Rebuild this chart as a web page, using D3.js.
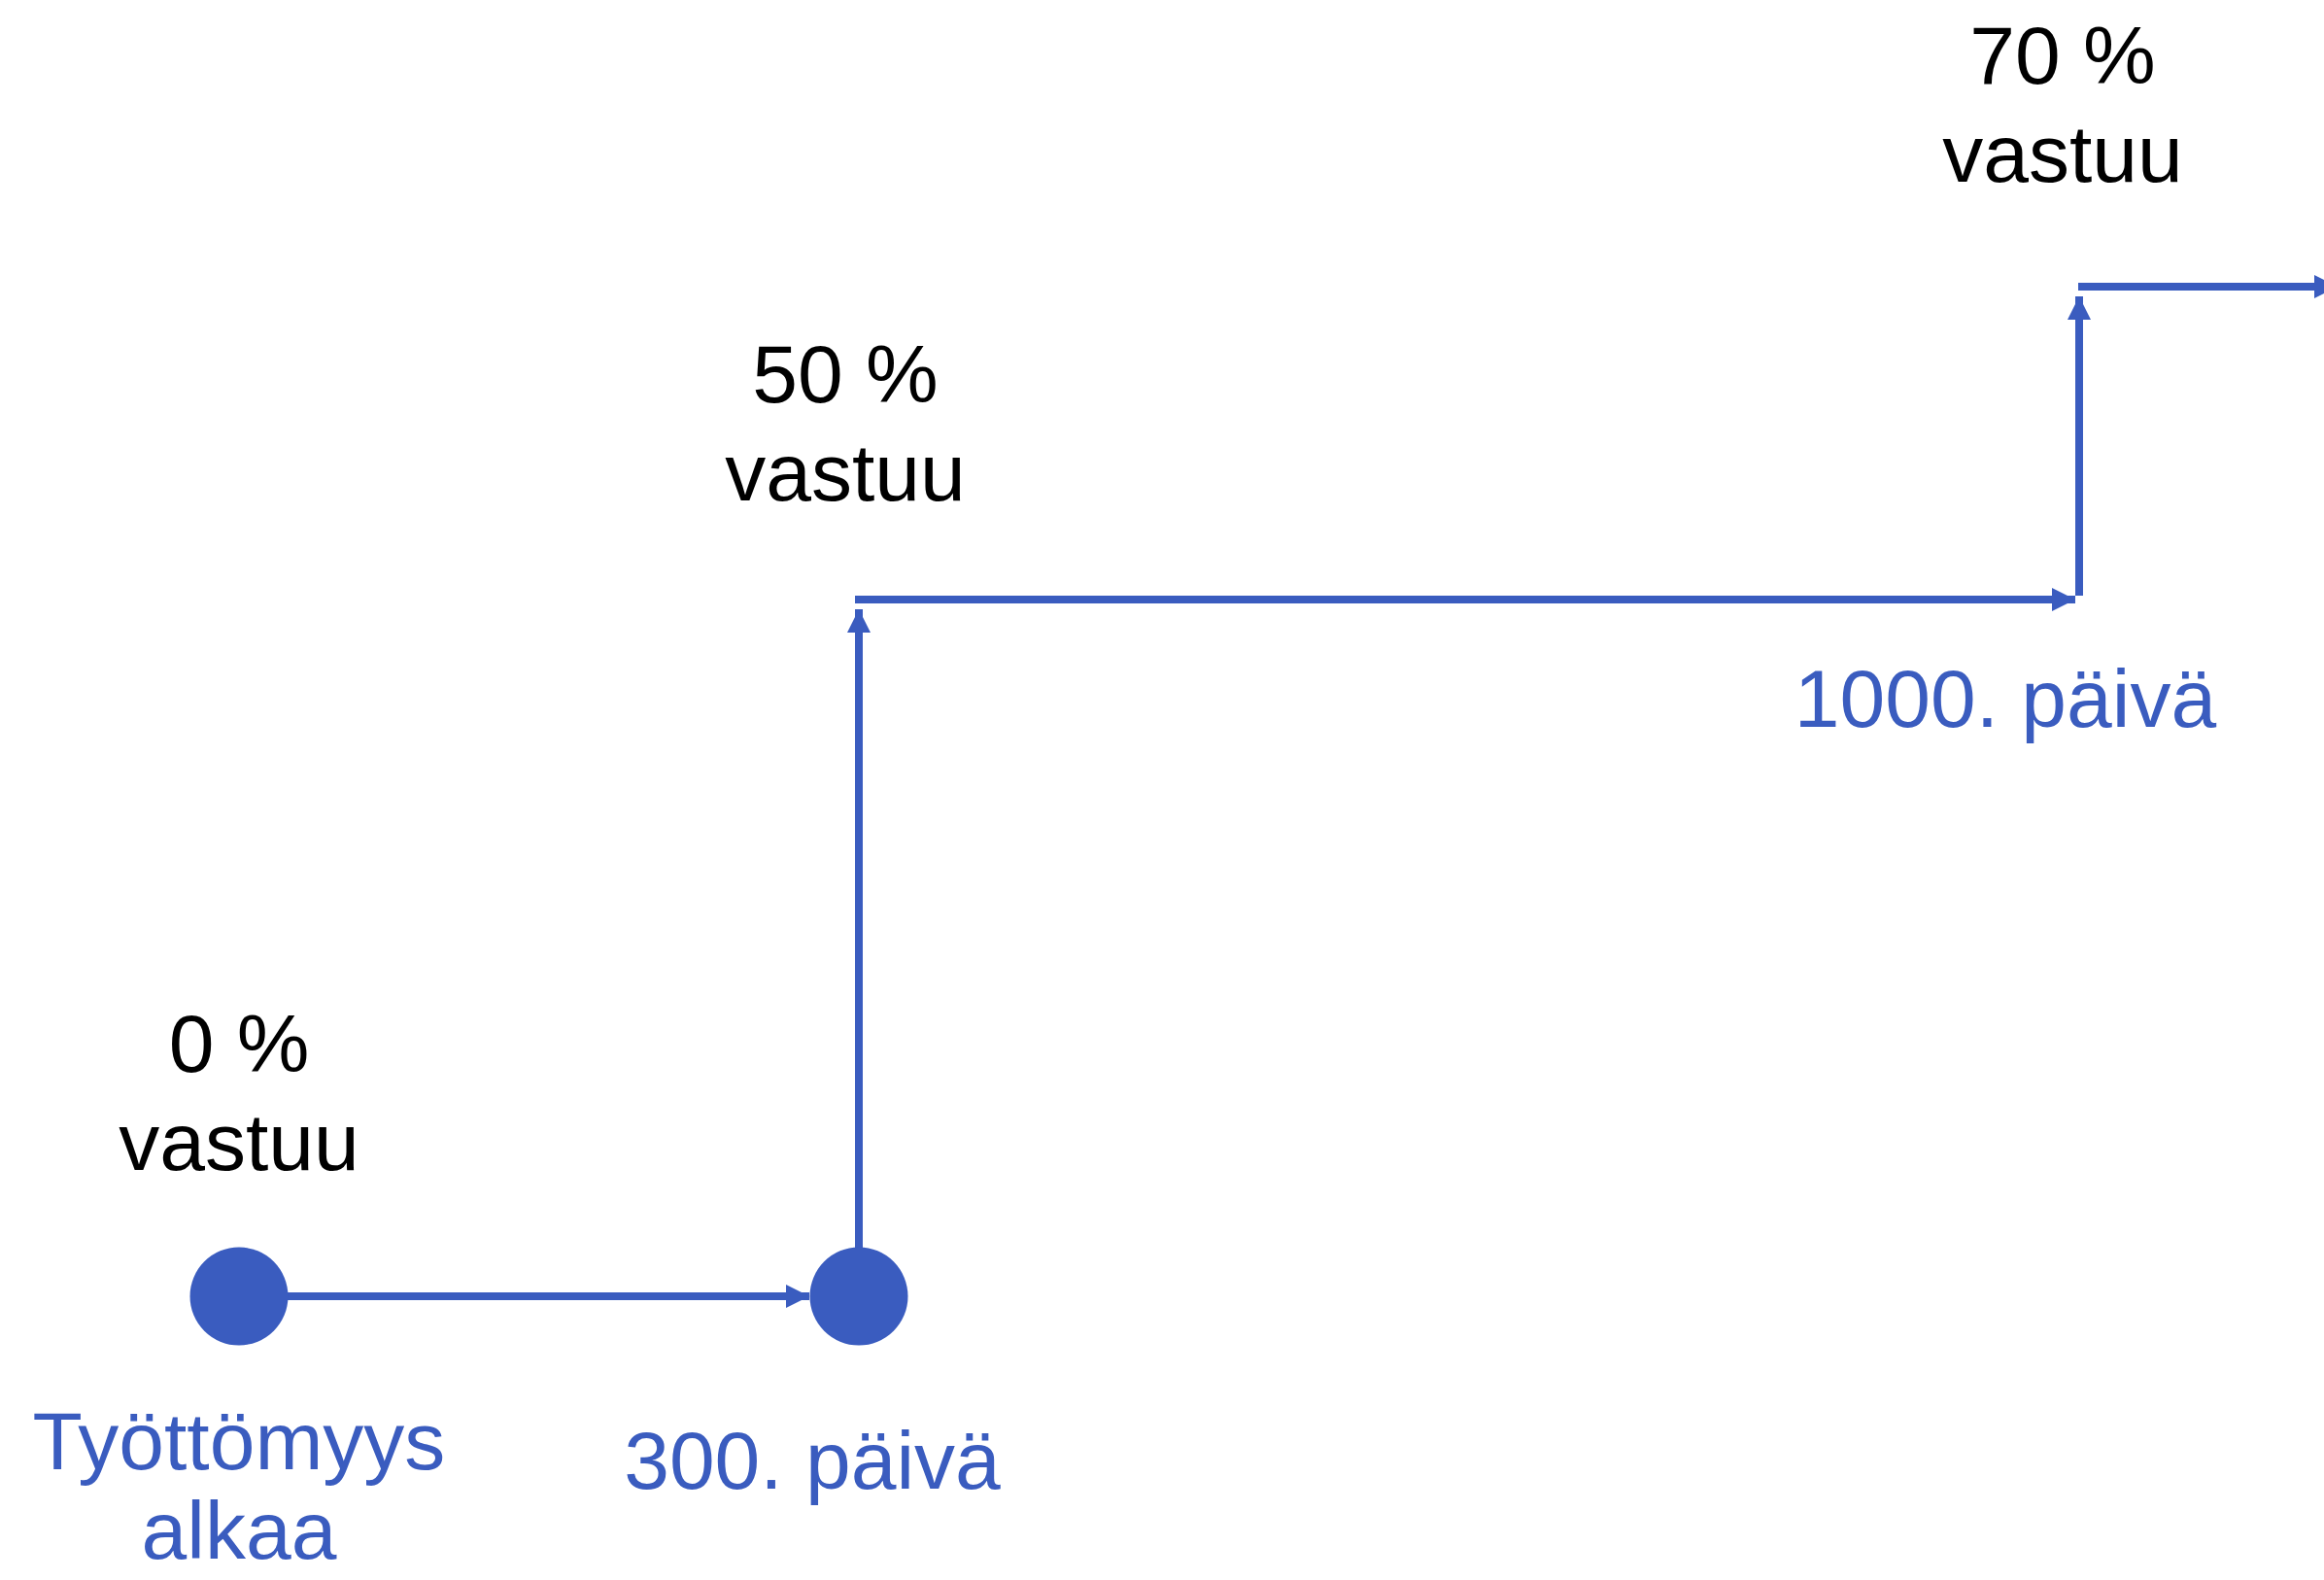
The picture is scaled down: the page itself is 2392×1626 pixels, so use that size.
<!DOCTYPE html>
<html>
<head>
<meta charset="utf-8">
<script src="https://cdn.jsdelivr.net/npm/d3@7"></script>
<style>
html,body{margin:0;padding:0;background:#fff;overflow:hidden;}
svg{display:block;}
</style>
</head>
<body>
<svg id="chart" width="2392" height="1626"></svg>
<script>
// ---- data ----
const days = [0, 300, 1000];                      // stage start day
const shares = [0, 50, 70];                       // employer responsibility %
const shareLabels = ["0 %", "50 %", "70 %"];
const shareSub = ["vastuu", "vastuu", "vastuu"];
const dayLabels = [["Työttömyys", "alkaa"], ["300. päivä"], ["1000. päivä"]];

// ---- layout ----
const W = 2392, H = 1626;
const blue = "#3A5CBF";
const font = "'Liberation Sans', Arial, sans-serif";
const fs = 84;
const x = d3.scaleLinear().domain(days).range([246, 884, 2140]);
const y = d3.scaleLinear().domain(shares).range([1334, 617, 295]);

const svg = d3.select("#chart");

// arrow marker
svg.append("defs").append("marker")
  .attr("id", "arr")
  .attr("markerUnits", "userSpaceOnUse")
  .attr("viewBox", "0 0 24 24")
  .attr("refX", 24).attr("refY", 12)
  .attr("markerWidth", 24).attr("markerHeight", 24)
  .attr("orient", "auto")
  .append("path").attr("d", "M0,0 L24,12 L0,24 Z").attr("fill", blue);

// segments of the step line, built from the data
const segs = [];
segs.push({x1: x(days[0]), y1: y(shares[0]), x2: x(days[1]) - 51, y2: y(shares[0])});
segs.push({x1: x(days[1]), y1: y(shares[0]) - 50, x2: x(days[1]), y2: y(shares[1]) + 10});
segs.push({x1: x(days[1]) - 4, y1: y(shares[1]), x2: x(days[2]) - 4, y2: y(shares[1])});
segs.push({x1: x(days[2]), y1: y(shares[1]) - 4, x2: x(days[2]), y2: y(shares[2]) + 10});
segs.push({x1: x(days[2]) - 1, y1: y(shares[2]), x2: W + 14, y2: y(shares[2])});

svg.selectAll("line.seg").data(segs).enter().append("line")
  .attr("class", "seg")
  .attr("x1", d => d.x1).attr("y1", d => d.y1)
  .attr("x2", d => d.x2).attr("y2", d => d.y2)
  .attr("stroke", blue).attr("stroke-width", 8)
  .attr("marker-end", "url(#arr)");

// circles at start and day 300
svg.selectAll("circle.pt").data([0, 1]).enter().append("circle")
  .attr("class", "pt")
  .attr("cx", i => x(days[i])).attr("cy", y(shares[0]))
  .attr("r", 50.5).attr("fill", blue);

// share labels (black)
const shareDx = [0, -14, -17];
const shareDy = [-231, -203, -209];
shares.forEach((s, i) => {
  const t = svg.append("text")
    .attr("x", x(days[i]) + shareDx[i])
    .attr("y", y(s) + shareDy[i])
    .attr("text-anchor", "middle")
    .attr("font-family", font).attr("font-size", fs).attr("fill", "#000");
  t.append("tspan").attr("x", x(days[i]) + shareDx[i]).text(shareLabels[i]);
  t.append("tspan").attr("x", x(days[i]) + shareDx[i]).attr("dy", 101).text(shareSub[i]);
});

// day labels (blue)
const dayDx = [0, -48, -76];
const dayBase = [y(shares[0]) + 178, y(shares[0]) + 198, y(shares[1]) + 131];
dayLabels.forEach((lines, i) => {
  const t = svg.append("text")
    .attr("x", x(days[i]) + dayDx[i])
    .attr("y", dayBase[i])
    .attr("text-anchor", "middle")
    .attr("font-family", font).attr("font-size", fs).attr("fill", blue);
  lines.forEach((l, j) => {
    t.append("tspan").attr("x", x(days[i]) + dayDx[i]).attr("dy", j ? 92 : 0).text(l);
  });
});
</script>
</body>
</html>
